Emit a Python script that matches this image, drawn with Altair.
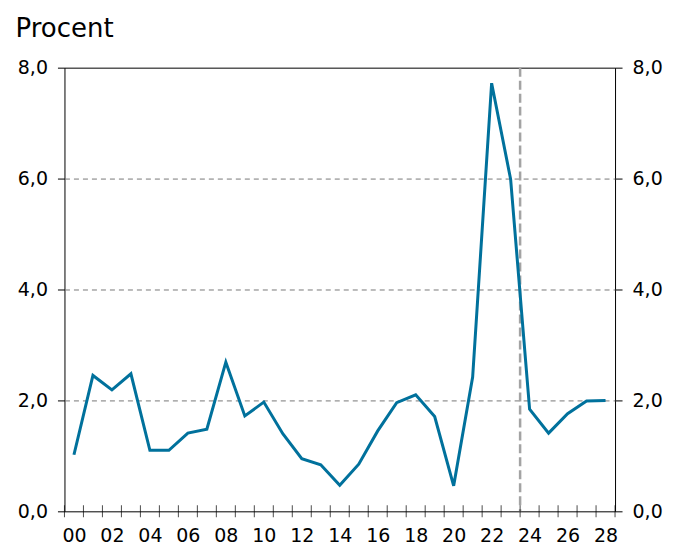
import altair as alt
import pandas as pd

# Year labels (two-digit years 2000-2028)
year_labels = ["00", "01", "02", "03", "04", "05", "06", "07", "08", "09",
               "10", "11", "12", "13", "14", "15", "16", "17", "18", "19",
               "20", "21", "22", "23", "24", "25", "26", "27", "28"]
# Inflation, percent
inflation = [1.02, 2.45, 2.19, 2.48, 1.10, 1.10, 1.41, 1.48, 2.69, 1.72,
             1.97, 1.40, 0.95, 0.84, 0.47, 0.85, 1.45, 1.96, 2.10, 1.71,
             0.46, 2.42, 7.72, 5.99, 1.84, 1.41, 1.76, 1.99, 2.00]
y_ticks = [0, 2, 4, 6, 8]
x_label_positions = [0, 2, 4, 6, 8, 10, 12, 14, 16, 18, 20, 22, 24, 26, 28]
forecast_boundary = 23.5  # between 2023 and 2024

FONT = "DejaVu Sans"
n = len(year_labels)

df = pd.DataFrame({"i": list(range(n)), "label": year_labels, "value": inflation})
bounds = pd.DataFrame({"b": [k - 0.5 for k in range(n + 1)], "zero": [0] * (n + 1)})
fc = pd.DataFrame({"x": [forecast_boundary]})

xscale = alt.Scale(domain=[-0.5, n - 0.5], nice=False, zero=False)
yscale = alt.Scale(domain=[0, 8], nice=False, zero=True)
ylab = "replace(format(datum.value, '.1f'), '.', ',')"

rule = alt.Chart(fc).mark_rule(color="#a3a3a3", strokeWidth=2.5, strokeDash=[9, 4]).encode(
    x=alt.X("x:Q", scale=xscale, axis=None)
)

line = alt.Chart(df).mark_line(color="#00719c", strokeWidth=3).encode(
    x=alt.X("i:Q", scale=xscale, axis=alt.Axis(
        values=x_label_positions,
        labelExpr="datum.value < 10 ? '0' + datum.value : '' + datum.value",
        ticks=False, tickSize=0, domain=False, grid=False, labelPadding=15,
        labelFlush=False, labelOverlap=False, title=None)),
    y=alt.Y("value:Q", scale=yscale, axis=alt.Axis(
        orient="left", values=y_ticks, labelExpr=ylab, tickSize=7, tickColor="black",
        domain=False, grid=True, gridColor="#777777", gridDash=[5, 4], gridWidth=1,
        gridOpacity={"condition": {"test": "datum.value >= 8 || datum.value <= 0", "value": 0}, "value": 1},
        labelPadding=10, title="Procent", titleAngle=0, titleX=-49.5, titleY=-31.5,
        titleAlign="left", titleBaseline="alphabetic", titleFontSize=26,
        titleFontWeight="normal", titleFont=FONT, titleColor="black")),
)

ticks = alt.Chart(bounds).mark_tick(color="black", thickness=1, size=12, orient="vertical").encode(
    x=alt.X("b:Q", scale=xscale, axis=None),
    y=alt.Y("zero:Q", scale=yscale, axis=alt.Axis(
        orient="right", values=y_ticks, labelExpr=ylab, tickSize=7, tickColor="black",
        domain=False, grid=False, labelPadding=10, title=None)),
)

chart = alt.layer(rule, line, ticks).resolve_axis(y="independent", x="independent").properties(
    width=551, height=444,
    autosize=alt.AutoSizeParams(type="none"),
    padding={"left": 56.5, "top": 59.5, "right": 56, "bottom": 36},
).configure_view(stroke="black", strokeWidth=1).configure_axis(
    labelFont=FONT, labelFontSize=19, labelColor="black"
)

chart.save("out.html", embed_options={"renderer": "svg", "actions": False})
